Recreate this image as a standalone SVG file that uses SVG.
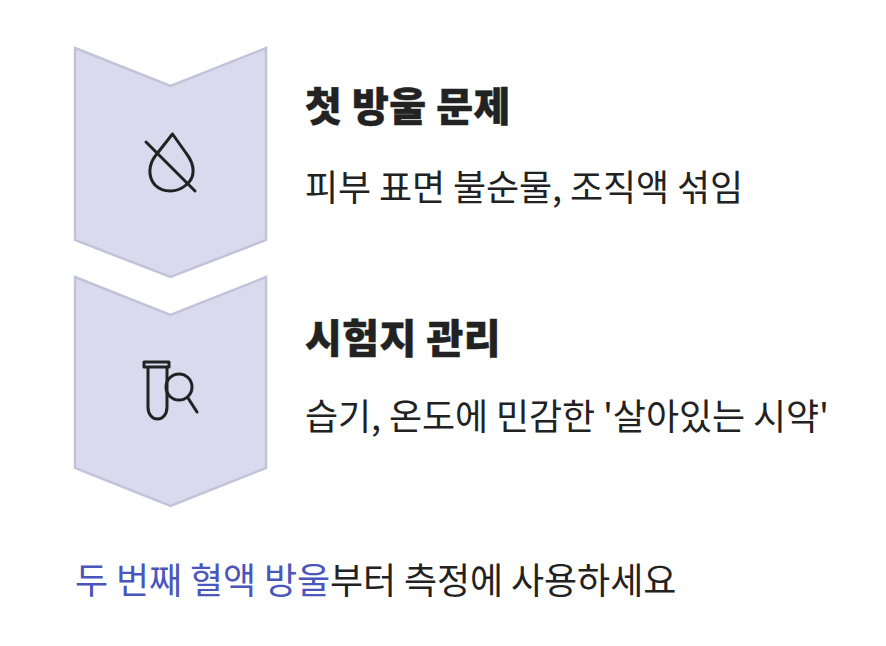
<svg xmlns="http://www.w3.org/2000/svg" width="886" height="646" viewBox="0 0 886 646">
<style>
text{font-family:"Noto Sans CJK KR","Noto Sans",sans-serif;fill:#222222}
.t{font-size:40px;font-weight:900;letter-spacing:0.5px;stroke:#222222;stroke-width:0.5}
.b{font-size:36px;font-weight:400;letter-spacing:-0.1px}
.c{fill:#dadaef;stroke:#c2c2d9;stroke-width:2.500}
.i{fill:none;stroke:#222222;stroke-width:3;stroke-linecap:round;stroke-linejoin:round}
</style>
<rect width="886" height="646" fill="#ffffff"/>
<g id="node-1">
<path class="c" d="M75 48L170.500 86L266 48V240L170.500 277L75 240Z"/>
<path class="i" d="M172.500 134L186 153C196 166 195 178 186 185C177 193 163 193 155 185C148 177 148 165 156 155Z"/>
<path class="i" d="M146 142L195 191"/>
<text class="t" x="305" y="121">첫 방울 문제</text>
<text class="b" x="305" y="201">피부 표면 불순물, 조직액 섞임</text>
</g>
<g id="node-2">
<path class="c" d="M75 277L170.500 315L266 277V468L170.500 506L75 468Z"/>
<path class="i" d="M144 362H169V367H144ZM148 367V407C148 423 167 423 167 407V367"/>
<circle class="i" cx="179" cy="387" r="13"/>
<path class="i" d="M188 398L197 412"/>
<text class="t" x="305" y="353">시험지 관리</text>
<text class="b" x="305" y="430">습기, 온도에 민감한 '살아있는 시약'</text>
</g>
<g id="footer">
<text class="b" x="75" y="594"><tspan fill="#4a56bb">두 번째 혈액 방울</tspan>부터 측정에 사용하세요</text>
</g>
<g id="connectors"/>
</svg>
